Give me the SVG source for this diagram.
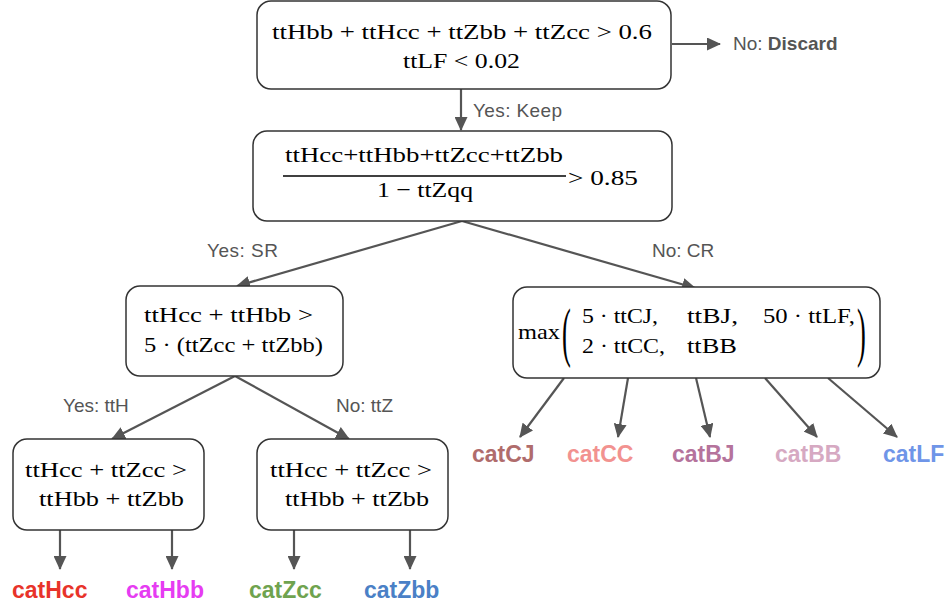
<svg xmlns="http://www.w3.org/2000/svg" width="950" height="607" viewBox="0 0 950 607">
  <defs>
    <marker id="arrow" markerUnits="userSpaceOnUse" markerWidth="14" markerHeight="13" refX="13" refY="6.5" orient="auto">
      <path d="M0,0 L14,6.5 L0,13 Z" fill="#555555"/>
    </marker>
    <style>
      .box { fill: #ffffff; stroke: #333333; stroke-width: 1.5; }
      .math { font-family: "Liberation Serif", "DejaVu Serif", serif; font-size: 22px; fill: #000000; }
      .edge { stroke: #555555; stroke-width: 2.2; fill: none; marker-end: url(#arrow); }
      .lbl { font-family: "Liberation Sans", Arial, sans-serif; font-size: 19px; fill: #555555; }
      .cat { font-family: "Liberation Sans", Arial, sans-serif; font-size: 23px; font-weight: bold; }
    </style>
  </defs>
  <rect width="950" height="607" fill="#ffffff"/>

  <!-- connectors -->
  <g id="connectors">
    <line class="edge" x1="672" y1="44" x2="720" y2="44"/>
    <line class="edge" x1="461" y1="89" x2="461" y2="130"/>
    <line class="edge" x1="462" y1="221" x2="237" y2="286"/>
    <line class="edge" x1="462" y1="221" x2="695" y2="288"/>
    <line class="edge" x1="235" y1="376" x2="112" y2="439"/>
    <line class="edge" x1="235" y1="376" x2="349" y2="439"/>
    <line class="edge" x1="564" y1="378" x2="520" y2="437"/>
    <line class="edge" x1="628" y1="378" x2="618" y2="437"/>
    <line class="edge" x1="696" y1="378" x2="710" y2="437"/>
    <line class="edge" x1="765" y1="378" x2="817" y2="437"/>
    <line class="edge" x1="828" y1="378" x2="897" y2="437"/>
    <line class="edge" x1="60" y1="530" x2="60" y2="569"/>
    <line class="edge" x1="172" y1="530" x2="172" y2="569"/>
    <line class="edge" x1="294" y1="530" x2="294" y2="569"/>
    <line class="edge" x1="410" y1="530" x2="410" y2="569"/>
  </g>

  <!-- edge labels -->
  <g id="edge-labels">
    <text class="lbl" x="733" y="50">No: <tspan font-weight="bold">Discard</tspan></text>
    <text class="lbl" x="473" y="117" textLength="89">Yes: Keep</text>
    <text class="lbl" x="207" y="257" textLength="71">Yes:  SR</text>
    <text class="lbl" x="652" y="257">No: CR</text>
    <text class="lbl" x="63" y="412">Yes:  ttH</text>
    <text class="lbl" x="336" y="412">No: ttZ</text>
  </g>

  <!-- preselection -->
  <g id="preselection">
    <rect class="box" x="257" y="1" width="414" height="88" rx="14"/>
    <text class="math" x="272" y="39" textLength="380" lengthAdjust="spacingAndGlyphs">ttHbb + ttHcc  + ttZbb + ttZcc  &gt;  0.6</text>
    <text class="math" x="403" y="68" textLength="117" lengthAdjust="spacingAndGlyphs">ttLF &lt; 0.02</text>
  </g>

  <!-- signal fraction -->
  <g id="signal-fraction">
    <rect class="box" x="253" y="131" width="419" height="90" rx="14"/>
    <text class="math" x="285" y="162" textLength="278" lengthAdjust="spacingAndGlyphs">ttHcc+ttHbb+ttZcc+ttZbb</text>
    <line x1="283" y1="176" x2="566" y2="176" stroke="#000000" stroke-width="1.3"/>
    <text class="math" x="377" y="197" textLength="96" lengthAdjust="spacingAndGlyphs">1 − ttZqq</text>
    <text class="math" x="568" y="185" textLength="70" lengthAdjust="spacingAndGlyphs">&gt; 0.85</text>
  </g>

  <!-- ttH vs ttZ -->
  <g id="tth-vs-ttz">
    <rect class="box" x="126" y="286" width="217" height="90" rx="14"/>
    <text class="math" x="144" y="322" textLength="169" lengthAdjust="spacingAndGlyphs">ttHcc + ttHbb  &gt;</text>
    <text class="math" x="144" y="352" textLength="179" lengthAdjust="spacingAndGlyphs">5 · (ttZcc + ttZbb)</text>
  </g>

  <!-- control region max -->
  <g id="control-max">
    <rect class="box" x="513" y="287" width="367" height="91" rx="14"/>
    <text class="math" x="518" y="339" textLength="42" lengthAdjust="spacingAndGlyphs">max</text>
    <text class="math" transform="translate(562,354) scale(1.2,3.0)" x="0" y="0">(</text>
    <text class="math" x="582" y="323" textLength="76" lengthAdjust="spacingAndGlyphs">5 · ttCJ,</text>
    <text class="math" x="687" y="323" textLength="51" lengthAdjust="spacingAndGlyphs">ttBJ,</text>
    <text class="math" x="763" y="323" textLength="92" lengthAdjust="spacingAndGlyphs">50 · ttLF,</text>
    <text class="math" x="582" y="353" textLength="83" lengthAdjust="spacingAndGlyphs">2 · ttCC,</text>
    <text class="math" x="687" y="353" textLength="50" lengthAdjust="spacingAndGlyphs">ttBB</text>
    <text class="math" transform="translate(857,354) scale(1.2,3.0)" x="0" y="0">)</text>
  </g>

  <!-- ttH flavour split -->
  <g id="tth-flavour">
    <rect class="box" x="13" y="439" width="191" height="91" rx="14"/>
    <text class="math" x="25" y="477" textLength="162" lengthAdjust="spacingAndGlyphs">ttHcc + ttZcc  &gt;</text>
    <text class="math" x="39" y="506" textLength="145" lengthAdjust="spacingAndGlyphs">ttHbb + ttZbb</text>
  </g>

  <!-- ttZ flavour split -->
  <g id="ttz-flavour">
    <rect class="box" x="257" y="439" width="191" height="91" rx="14"/>
    <text class="math" x="270" y="477" textLength="162" lengthAdjust="spacingAndGlyphs">ttHcc + ttZcc  &gt;</text>
    <text class="math" x="285" y="506" textLength="144" lengthAdjust="spacingAndGlyphs">ttHbb + ttZbb</text>
  </g>

  <!-- categories -->
  <g id="cat-hcc"><text class="cat" x="12" y="598" fill="#e8332a">catHcc</text></g>
  <g id="cat-hbb"><text class="cat" x="126" y="598" fill="#e63cf2">catHbb</text></g>
  <g id="cat-zcc"><text class="cat" x="249" y="598" fill="#6fa34f">catZcc</text></g>
  <g id="cat-zbb"><text class="cat" x="364" y="598" fill="#4a80c6">catZbb</text></g>
  <g id="cat-cj"><text class="cat" x="472" y="462" fill="#b06c6c">catCJ</text></g>
  <g id="cat-cc"><text class="cat" x="567" y="462" fill="#f29290">catCC</text></g>
  <g id="cat-bj"><text class="cat" x="672" y="462" fill="#b5739c">catBJ</text></g>
  <g id="cat-bb"><text class="cat" x="775" y="462" fill="#d6a9c2">catBB</text></g>
  <g id="cat-lf"><text class="cat" x="883" y="462" fill="#6f95e8">catLF</text></g>
</svg>
